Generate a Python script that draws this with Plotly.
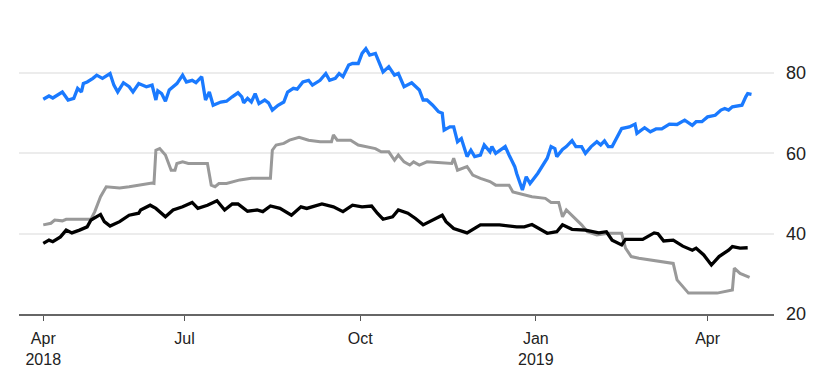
import plotly.graph_objects as go

# ---- data ----
blue_dates = ["2018-04-18","2018-04-21","2018-04-23","2018-04-28","2018-05-01","2018-05-04","2018-05-06","2018-05-08","2018-05-09","2018-05-11","2018-05-14","2018-05-16","2018-05-19","2018-05-23","2018-05-25","2018-05-27","2018-05-30","2018-06-02","2018-06-04","2018-06-07","2018-06-11","2018-06-14","2018-06-16","2018-06-17","2018-06-19","2018-06-21","2018-06-23","2018-06-27","2018-06-30","2018-07-02","2018-07-05","2018-07-07","2018-07-10","2018-07-12","2018-07-14","2018-07-16","2018-07-20","2018-07-23","2018-07-26","2018-07-29","2018-07-31","2018-08-01","2018-08-03","2018-08-05","2018-08-07","2018-08-09","2018-08-12","2018-08-14","2018-08-16","2018-08-19","2018-08-22","2018-08-24","2018-08-27","2018-08-29","2018-09-01","2018-09-04","2018-09-06","2018-09-10","2018-09-13","2018-09-15","2018-09-18","2018-09-20","2018-09-22","2018-09-25","2018-09-27","2018-09-30","2018-10-02","2018-10-04","2018-10-06","2018-10-09","2018-10-13","2018-10-16","2018-10-19","2018-10-21","2018-10-24","2018-10-28","2018-11-01","2018-11-03","2018-11-05","2018-11-08","2018-11-11","2018-11-13","2018-11-14","2018-11-17","2018-11-19","2018-11-21","2018-11-23","2018-11-26","2018-11-28","2018-11-30","2018-12-03","2018-12-05","2018-12-08","2018-12-09","2018-12-11","2018-12-16","2018-12-18","2018-12-21","2018-12-22","2018-12-25","2018-12-27","2018-12-29","2019-01-02","2019-01-05","2019-01-07","2019-01-09","2019-01-11","2019-01-12","2019-01-15","2019-01-17","2019-01-20","2019-01-22","2019-01-25","2019-01-27","2019-01-30","2019-02-02","2019-02-04","2019-02-06","2019-02-08","2019-02-10","2019-02-13","2019-02-15","2019-02-19","2019-02-22","2019-02-23","2019-02-27","2019-03-02","2019-03-05","2019-03-08","2019-03-12","2019-03-16","2019-03-20","2019-03-24","2019-03-26","2019-03-29","2019-04-01","2019-04-05","2019-04-08","2019-04-10","2019-04-12","2019-04-14","2019-04-19","2019-04-21","2019-04-22","2019-04-24"]
blue_values = [73.5,74.3,73.8,75.3,73.3,73.7,76.2,75.3,77.4,77.8,78.7,79.5,78.7,79.9,77.0,75.3,77.6,76.6,75.3,77.4,76.6,77.0,73.3,75.6,74.9,73.0,75.8,77.4,79.5,77.8,78.2,77.6,79.1,73.3,75.3,72.0,72.8,73.0,74.1,75.1,74.1,72.6,73.7,72.8,74.9,72.4,73.3,72.6,70.8,72.0,72.8,75.3,76.2,76.0,77.8,78.2,77.0,78.2,79.9,78.2,78.7,79.9,79.1,82.0,82.4,82.4,84.9,86.1,84.5,84.9,80.3,81.6,79.5,79.9,76.6,77.6,75.8,73.3,73.3,72.0,70.4,70.0,65.8,66.6,66.6,62.9,63.7,59.2,60.8,59.2,59.6,62.1,60.4,61.7,60.0,61.7,59.6,56.7,55.0,50.9,54.2,52.5,55.0,57.1,58.8,61.7,61.2,59.2,61.0,61.7,63.2,61.7,61.7,60.0,61.7,62.9,62.1,63.1,61.7,61.7,64.2,66.2,66.6,67.3,65.0,66.4,65.4,66.1,66.1,67.3,67.2,68.3,67.0,67.9,67.9,69.1,69.5,70.8,71.2,70.8,71.6,72.0,74.1,74.9,74.7]

gray_dates = ["2018-04-18","2018-04-22","2018-04-24","2018-04-28","2018-04-30","2018-05-13","2018-05-15","2018-05-18","2018-05-21","2018-05-28","2018-06-02","2018-06-07","2018-06-14","2018-06-15","2018-06-16","2018-06-18","2018-06-21","2018-06-24","2018-06-26","2018-06-27","2018-06-30","2018-07-03","2018-07-13","2018-07-15","2018-07-17","2018-07-19","2018-07-23","2018-07-30","2018-08-05","2018-08-15","2018-08-16","2018-08-18","2018-08-22","2018-08-25","2018-08-30","2018-09-04","2018-09-10","2018-09-16","2018-09-17","2018-09-19","2018-09-26","2018-09-30","2018-10-04","2018-10-09","2018-10-12","2018-10-16","2018-10-19","2018-10-21","2018-10-24","2018-10-27","2018-10-29","2018-11-01","2018-11-05","2018-11-18","2018-11-19","2018-11-21","2018-11-26","2018-11-29","2018-12-03","2018-12-08","2018-12-11","2018-12-18","2018-12-20","2018-12-23","2018-12-30","2019-01-06","2019-01-09","2019-01-13","2019-01-15","2019-01-17","2019-01-20","2019-01-25","2019-01-28","2019-02-02","2019-02-08","2019-02-15","2019-02-17","2019-02-20","2019-02-24","2019-03-03","2019-03-10","2019-03-14","2019-03-16","2019-03-19","2019-03-22","2019-04-06","2019-04-14","2019-04-15","2019-04-18","2019-04-23"]
gray_values = [42.2,42.6,43.4,43.2,43.6,43.6,45.5,49.2,51.7,51.4,51.7,52.1,52.6,52.5,60.8,61.2,59.6,55.8,55.8,57.5,57.9,57.5,57.5,52.1,51.7,52.5,52.5,53.4,53.8,53.8,60.8,62.1,62.5,63.3,64.0,63.3,62.9,62.9,64.6,63.3,63.3,62.1,61.7,61.2,60.4,60.4,58.3,59.6,57.9,57.1,57.9,57.1,57.9,57.5,58.8,55.8,56.7,54.6,53.8,53.0,52.1,52.1,50.4,50.0,49.2,48.8,47.8,47.8,44.2,45.9,44.6,42.2,40.5,39.7,40.1,40.1,36.4,34.3,33.9,33.4,32.8,32.6,28.5,26.8,25.2,25.2,26.0,31.4,30.1,29.1]

black_dates = ["2018-04-18","2018-04-21","2018-04-23","2018-04-27","2018-04-30","2018-05-03","2018-05-07","2018-05-11","2018-05-13","2018-05-18","2018-05-20","2018-05-23","2018-05-28","2018-06-02","2018-06-07","2018-06-08","2018-06-13","2018-06-16","2018-06-21","2018-06-25","2018-06-30","2018-07-05","2018-07-08","2018-07-13","2018-07-18","2018-07-22","2018-07-26","2018-07-29","2018-08-03","2018-08-08","2018-08-11","2018-08-15","2018-08-20","2018-08-26","2018-08-31","2018-09-03","2018-09-11","2018-09-17","2018-09-22","2018-09-27","2018-10-02","2018-10-07","2018-10-10","2018-10-13","2018-10-18","2018-10-21","2018-10-26","2018-10-30","2018-11-03","2018-11-08","2018-11-13","2018-11-15","2018-11-19","2018-11-26","2018-12-03","2018-12-13","2018-12-17","2018-12-22","2018-12-26","2018-12-30","2019-01-07","2019-01-12","2019-01-15","2019-01-20","2019-01-27","2019-02-03","2019-02-07","2019-02-10","2019-02-15","2019-02-17","2019-02-26","2019-03-04","2019-03-06","2019-03-09","2019-03-14","2019-03-19","2019-03-24","2019-03-26","2019-03-30","2019-04-03","2019-04-07","2019-04-12","2019-04-14","2019-04-18","2019-04-22"]
black_values = [37.6,38.4,38.0,39.2,40.9,40.2,40.9,41.7,43.4,44.8,43.0,41.9,43.0,44.6,45.1,45.9,47.1,46.3,44.2,45.9,46.7,47.8,46.3,47.1,48.2,45.9,47.4,47.4,45.6,45.9,45.5,46.9,46.3,44.6,46.7,46.3,47.4,46.7,45.5,47.1,46.7,46.9,45.1,43.6,44.2,45.9,45.1,43.8,42.2,43.4,44.6,43.0,41.3,40.2,42.2,42.2,41.9,41.7,41.7,42.3,40.1,40.5,42.2,41.1,40.9,40.2,40.5,38.4,37.2,38.6,38.6,40.2,40.0,38.2,38.4,36.9,35.9,36.4,34.7,32.2,34.3,35.9,36.8,36.4,36.5]

x_tick_dates = ["2018-04-18","2018-07-01","2018-10-01","2019-01-01","2019-04-01"]
x_tick_labels = ["Apr<br>2018","Jul","Oct","Jan<br>2019","Apr"]
y_ticks = [20, 40, 60, 80]

fig = go.Figure()
fig.add_trace(go.Scatter(x=gray_dates, y=gray_values, mode="lines",
                         line=dict(color="#999999", width=3), hoverinfo="skip"))
fig.add_trace(go.Scatter(x=black_dates, y=black_values, mode="lines",
                         line=dict(color="#000000", width=3.3), hoverinfo="skip"))
fig.add_trace(go.Scatter(x=blue_dates, y=blue_values, mode="lines",
                         line=dict(color="#1A7AFF", width=3.3), hoverinfo="skip"))

fig.update_layout(
    width=829, height=373,
    margin=dict(l=19, r=55, t=41, b=59),
    paper_bgcolor="white", plot_bgcolor="white",
    showlegend=False,
    font=dict(family="Liberation Sans, Arial, sans-serif", color="#222222"),
    xaxis=dict(
        type="date",
        range=["2018-04-05 07:00", "2019-05-05 19:00"],
        tickvals=x_tick_dates, ticktext=x_tick_labels,
        ticks="outside", ticklen=5, tickwidth=1, tickcolor="#555555",
        showline=True, linecolor="#666666", linewidth=2,
        showgrid=False, zeroline=False, automargin=False,
        ticklabelstandoff=4,
        tickfont=dict(size=16, color="#222222"),
    ),
    yaxis=dict(
        side="right",
        range=[20, 88],
        tickvals=y_ticks, automargin=False,
        showgrid=True, gridcolor="#ececec", gridwidth=1.5,
        zeroline=False, showline=False, ticks="",
        ticklabelstandoff=11,
        tickfont=dict(size=18, color="#222222"),
    ),
)

fig.write_html("out.html")
